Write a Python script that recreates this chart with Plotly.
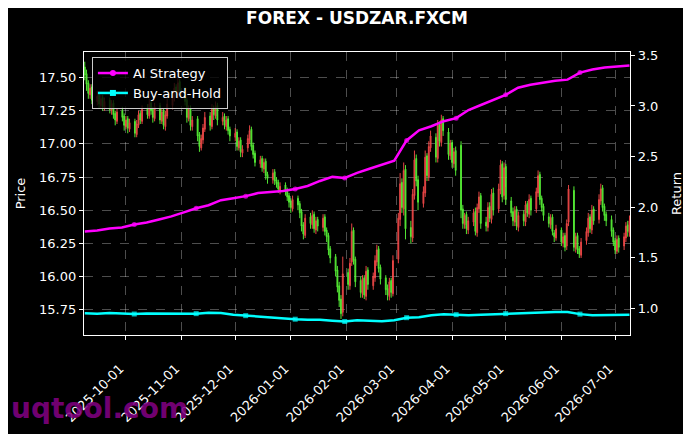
import pandas as pd
import plotly.graph_objects as go

# daily candles, USDZAR, trading days from 2025-09-08 to 2026-07-09
opens = [
    17.58, 17.53, 17.46, 17.37, 17.43,  17.32, 17.37, 17.29, 17.35, 17.27,
    17.33, 17.25, 17.31, 17.23, 17.17,  17.25, 17.21, 17.13, 17.19, 17.11,
    17.17, 17.07, 17.14, 17.23, 17.17,  17.27, 17.21, 17.31, 17.26, 17.19,
    17.29, 17.17, 17.25, 17.13, 17.21,  17.29, 17.35, 17.43, 17.37, 17.47,
    17.41, 17.33, 17.19, 17.27, 17.13,  17.19, 17.07, 16.97, 17.03, 17.11,
    17.21, 17.13, 17.27, 17.21, 17.29,  17.17, 17.21, 17.13, 17.19, 17.11,
    17.05, 17.09, 16.97, 17.03, 16.93,  16.97, 17.03, 17.11, 16.99, 16.93,
    16.85, 16.89, 16.81, 16.87, 16.77,  16.73, 16.79, 16.73, 16.71, 16.65,
    16.69, 16.65, 16.61, 16.57, 16.51,  16.59, 16.55, 16.49, 16.39, 16.31,
    16.45, 16.39, 16.47, 16.35, 16.43,  16.37, 16.45, 16.35, 16.31, 16.21,
    16.15, 16.05, 15.93, 15.83, 15.73,  16.03, 15.93, 16.11, 16.35, 16.13,
    15.97, 15.87, 15.99, 15.85, 16.05,  15.93, 15.99, 16.11, 16.21, 16.07,
    15.99, 15.91, 15.85, 15.97, 15.87,  16.13, 16.43, 16.71, 16.51, 16.81,
    16.37, 16.29, 16.61, 16.89, 16.73,  16.55, 16.63, 16.91, 16.75, 16.97,
    17.05, 16.89, 17.15, 17.01, 17.19,  17.09, 16.91, 17.01, 16.85, 16.95,
    16.99, 16.51, 16.39, 16.47, 16.35,  16.41, 16.49, 16.33, 16.51, 16.61,
    16.41, 16.37, 16.53, 16.43, 16.63,  16.51, 16.65, 16.85, 16.61, 16.83,
    16.57, 16.49, 16.41, 16.51, 16.37,  16.47, 16.41, 16.55, 16.47, 16.59,
    16.51, 16.63, 16.77, 16.59, 16.53,  16.45, 16.39, 16.45, 16.33, 16.29,
    16.35, 16.25, 16.31, 16.23, 16.41,  16.65, 16.21, 16.31, 16.21, 16.16,
    16.27, 16.33, 16.45, 16.35, 16.51,  16.43, 16.57, 16.67, 16.53, 16.47,
    16.43, 16.35, 16.27, 16.19, 16.29,  16.23, 16.29, 16.39, 16.33,
]
highs = [
    17.62, 17.56, 17.48, 17.45, 17.45,  17.40, 17.39, 17.37, 17.37, 17.35,
    17.35, 17.33, 17.33, 17.25, 17.27,  17.28, 17.23, 17.21, 17.21, 17.19,
    17.19, 17.18, 17.25, 17.25, 17.29,  17.30, 17.34, 17.33, 17.28, 17.31,
    17.31, 17.27, 17.27, 17.25, 17.34,  17.39, 17.46, 17.45, 17.50, 17.49,
    17.43, 17.35, 17.29, 17.29, 17.21,  17.21, 17.09, 17.07, 17.15, 17.24,
    17.24, 17.30, 17.29, 17.32, 17.31,  17.24, 17.23, 17.21, 17.21, 17.13,
    17.12, 17.11, 17.05, 17.05, 16.99,  17.07, 17.14, 17.13, 17.01, 16.95,
    16.91, 16.91, 16.89, 16.89, 16.79,  16.81, 16.81, 16.75, 16.73, 16.71,
    16.71, 16.67, 16.63, 16.59, 16.61,  16.61, 16.57, 16.51, 16.41, 16.47,
    16.48, 16.50, 16.49, 16.45, 16.45,  16.47, 16.47, 16.37, 16.33, 16.23,
    16.17, 16.08, 15.96, 15.86, 16.15,  16.06, 16.14, 16.40, 16.37, 16.15,
    16.00, 16.01, 16.01, 16.08, 16.07,  16.03, 16.16, 16.24, 16.23, 16.09,
    16.01, 15.94, 15.99, 15.99, 16.16,  16.48, 16.78, 16.74, 16.86, 16.84,
    16.42, 16.66, 16.95, 16.92, 16.76,  16.68, 16.95, 16.93, 17.02, 17.10,
    17.08, 17.18, 17.17, 17.22, 17.21,  17.12, 17.03, 17.03, 16.97, 16.98,
    17.02, 16.54, 16.48, 16.49, 16.45,  16.51, 16.52, 16.55, 16.64, 16.63,
    16.45, 16.56, 16.56, 16.66, 16.67,  16.70, 16.88, 16.87, 16.86, 16.85,
    16.60, 16.52, 16.53, 16.53, 16.49,  16.50, 16.57, 16.57, 16.62, 16.61,
    16.67, 16.80, 16.79, 16.61, 16.55,  16.48, 16.47, 16.47, 16.35, 16.39,
    16.37, 16.33, 16.33, 16.43, 16.69,  16.68, 16.33, 16.33, 16.23, 16.29,
    16.37, 16.48, 16.47, 16.54, 16.53,  16.62, 16.70, 16.69, 16.55, 16.49,
    16.46, 16.37, 16.29, 16.31, 16.31,  16.33, 16.41, 16.42, 16.46,
]
lows = [
    17.48, 17.40, 17.34, 17.34, 17.30,  17.29, 17.27, 17.27, 17.25, 17.25,
    17.23, 17.22, 17.19, 17.14, 17.15,  17.17, 17.10, 17.11, 17.08, 17.09,
    17.05, 17.05, 17.12, 17.15, 17.15,  17.19, 17.19, 17.22, 17.16, 17.17,
    17.15, 17.15, 17.11, 17.10, 17.19,  17.26, 17.32, 17.35, 17.34, 17.37,
    17.29, 17.16, 17.17, 17.10, 17.10,  17.02, 16.94, 16.95, 17.00, 17.09,
    17.10, 17.11, 17.18, 17.19, 17.14,  17.14, 17.11, 17.10, 17.07, 17.02,
    17.02, 16.95, 16.95, 16.90, 16.90,  16.94, 17.00, 16.95, 16.89, 16.83,
    16.82, 16.79, 16.78, 16.73, 16.70,  16.70, 16.69, 16.67, 16.63, 16.62,
    16.61, 16.57, 16.52, 16.48, 16.49,  16.50, 16.44, 16.34, 16.28, 16.29,
    16.36, 16.36, 16.33, 16.32, 16.34,  16.34, 16.31, 16.26, 16.16, 16.10,
    16.00, 15.88, 15.77, 15.68, 15.70,  15.90, 15.90, 16.08, 16.09, 15.92,
    15.84, 15.84, 15.83, 15.82, 15.90,  15.90, 15.96, 16.08, 16.03, 15.94,
    15.86, 15.82, 15.82, 15.84, 15.85,  16.10, 16.38, 16.48, 16.46, 16.28,
    16.25, 16.26, 16.58, 16.68, 16.50,  16.52, 16.60, 16.72, 16.72, 16.94,
    16.86, 16.86, 16.98, 16.98, 17.06,  16.88, 16.88, 16.82, 16.82, 16.76,
    16.44, 16.36, 16.36, 16.32, 16.32,  16.38, 16.31, 16.30, 16.48, 16.36,
    16.34, 16.34, 16.41, 16.40, 16.46,  16.48, 16.62, 16.56, 16.58, 16.54,
    16.45, 16.38, 16.38, 16.35, 16.34,  16.38, 16.38, 16.45, 16.44, 16.46,
    16.48, 16.60, 16.54, 16.49, 16.42,  16.37, 16.36, 16.31, 16.26, 16.27,
    16.23, 16.22, 16.19, 16.20, 16.38,  16.19, 16.18, 16.17, 16.14, 16.14,
    16.24, 16.30, 16.33, 16.32, 16.39,  16.40, 16.54, 16.49, 16.42, 16.38,
    16.30, 16.23, 16.17, 16.17, 16.18,  16.20, 16.26, 16.30, 16.30,
]
closes = [
    17.52, 17.45, 17.38, 17.42, 17.33,  17.36, 17.30, 17.34, 17.28, 17.32,
    17.26, 17.30, 17.22, 17.18, 17.24,  17.20, 17.14, 17.18, 17.12, 17.16,
    17.08, 17.15, 17.22, 17.18, 17.26,  17.22, 17.30, 17.25, 17.20, 17.28,
    17.18, 17.24, 17.14, 17.22, 17.30,  17.36, 17.42, 17.38, 17.46, 17.40,
    17.32, 17.20, 17.26, 17.14, 17.18,  17.06, 16.98, 17.04, 17.12, 17.20,
    17.14, 17.26, 17.22, 17.28, 17.18,  17.20, 17.14, 17.18, 17.10, 17.06,
    17.08, 16.98, 17.02, 16.94, 16.96,  17.04, 17.10, 16.98, 16.92, 16.86,
    16.88, 16.82, 16.86, 16.76, 16.74,  16.78, 16.72, 16.70, 16.66, 16.68,
    16.64, 16.60, 16.56, 16.52, 16.58,  16.54, 16.48, 16.38, 16.32, 16.44,
    16.40, 16.46, 16.36, 16.42, 16.38,  16.44, 16.34, 16.30, 16.20, 16.14,
    16.04, 15.92, 15.82, 15.72, 16.02,  15.94, 16.10, 16.34, 16.12, 15.96,
    15.88, 15.98, 15.86, 16.04, 15.94,  16.00, 16.12, 16.20, 16.06, 15.98,
    15.90, 15.86, 15.96, 15.88, 16.12,  16.44, 16.70, 16.52, 16.80, 16.36,
    16.30, 16.62, 16.88, 16.72, 16.56,  16.64, 16.90, 16.76, 16.98, 17.06,
    16.90, 17.14, 17.02, 17.18, 17.10,  16.92, 17.00, 16.86, 16.94, 16.80,
    16.50, 16.40, 16.46, 16.36, 16.42,  16.48, 16.34, 16.52, 16.60, 16.40,
    16.38, 16.52, 16.44, 16.62, 16.50,  16.66, 16.84, 16.60, 16.82, 16.58,
    16.48, 16.42, 16.50, 16.38, 16.46,  16.42, 16.54, 16.48, 16.58, 16.50,
    16.64, 16.76, 16.58, 16.52, 16.46,  16.40, 16.44, 16.34, 16.30, 16.36,
    16.26, 16.30, 16.22, 16.40, 16.66,  16.22, 16.30, 16.20, 16.17, 16.26,
    16.34, 16.44, 16.36, 16.50, 16.42,  16.58, 16.66, 16.52, 16.46, 16.42,
    16.34, 16.26, 16.20, 16.28, 16.22,  16.30, 16.38, 16.34, 16.42,
]

# cumulative returns, sampled about once a week
ai_return = [
    1.76, 1.77, 1.79, 1.80, 1.83, 1.85, 1.88, 1.91, 1.95, 1.99,
    2.02, 2.07, 2.09, 2.11, 2.14, 2.15, 2.16, 2.18, 2.21, 2.26,
    2.30, 2.29, 2.34, 2.38, 2.42, 2.46, 2.66, 2.76, 2.80, 2.85,
    2.88, 2.96, 3.01, 3.06, 3.11, 3.18, 3.21, 3.23, 3.25, 3.26,
    3.33, 3.36, 3.38, 3.39, 3.40,
]
bh_return = [
    0.953, 0.950, 0.955, 0.948, 0.946, 0.952, 0.950, 0.955, 0.953, 0.950,
    0.958, 0.955, 0.940, 0.930, 0.925, 0.915, 0.905, 0.895, 0.890, 0.890,
    0.880, 0.872, 0.885, 0.880, 0.875, 0.885, 0.910, 0.915, 0.935, 0.945,
    0.940, 0.935, 0.940, 0.945, 0.950, 0.953, 0.958, 0.962, 0.965, 0.967,
    0.945, 0.935, 0.935, 0.938, 0.940,
]

dates = pd.bdate_range("2025-09-08", periods=len(closes))
line_dates = pd.date_range("2025-09-08", "2026-07-09", periods=len(ai_return))

marker_idx = [4, 9, 13, 17, 21, 26, 30, 34, 40]
msize = [5 if i in marker_idx else 0 for i in range(len(ai_return))]
no_edge = dict(width=0)

fig = go.Figure()

fig.add_trace(go.Candlestick(
    x=dates, open=opens, high=highs, low=lows, close=closes,
    increasing=dict(line=dict(color="#ff4d4d", width=1), fillcolor="#ff4d4d"),
    decreasing=dict(line=dict(color="#5cff3a", width=1), fillcolor="#5cff3a"),
    opacity=0.9, showlegend=False, hoverinfo="skip",
))

fig.add_trace(go.Scatter(
    x=line_dates, y=ai_return, yaxis="y2", mode="lines+markers",
    line=dict(color="#ff00ff", width=2.5),
    marker=dict(size=msize, symbol="circle", color="#ff00ff", line=no_edge),
    showlegend=False,
))
fig.add_trace(go.Scatter(
    x=line_dates, y=bh_return, yaxis="y2", mode="lines+markers",
    line=dict(color="#00ffff", width=2.5),
    marker=dict(size=msize, symbol="square", color="#00ffff", line=no_edge),
    showlegend=False,
))

# legend entries
fig.add_trace(go.Scatter(x=[None], y=[None], mode="lines+markers", name="AI Strategy",
                         line=dict(color="#ff00ff", width=2.5),
                         marker=dict(size=6, symbol="circle", color="#ff00ff", line=no_edge)))
fig.add_trace(go.Scatter(x=[None], y=[None], mode="lines+markers", name="Buy-and-Hold",
                         line=dict(color="#00ffff", width=2.5),
                         marker=dict(size=6, symbol="square", color="#00ffff", line=no_edge)))

axis_common = dict(
    showline=True, linecolor="white", linewidth=1.2, ticks="outside",
    ticklen=4, tickcolor="white", tickfont=dict(color="white", size=13),
    zeroline=False,
)

# the page body adds an 8px offset, margins are shifted to compensate
fig.update_layout(
    width=691, height=434,
    margin=dict(l=72, r=69, t=44, b=107),
    paper_bgcolor="black", plot_bgcolor="black",
    font=dict(family="DejaVu Sans", color="white", size=13),
    title=dict(text="<b>FOREX - USDZAR.FXCM</b>", x=0.5, xref="paper", xanchor="center",
               y=0.977, yanchor="middle", font=dict(size=17, color="white")),
    xaxis=dict(
        **axis_common, mirror=True, type="date",
        range=["2025-09-07 14:00", "2026-07-09 07:00"],
        tick0="2025-10-01", dtick="M1", tickformat="%Y-%m-%d", tickangle=-45,
        ticksuffix="\u00a0\u00a0", ticklabelstandoff=10,
        showgrid=True, gridcolor="rgba(255,255,255,0.3)", griddash="dash", gridwidth=0.6,
        rangeslider=dict(visible=False),
    ),
    yaxis=dict(
        **axis_common, mirror=True,
        range=[15.559, 17.693], dtick=0.25, tick0=15.75, tickformat=".2f",
        title=dict(text="Price", font=dict(size=13, color="white"), standoff=10),
        showgrid=True, gridcolor="rgba(255,255,255,0.3)", griddash="dash", gridwidth=0.6,
    ),
    yaxis2=dict(
        **axis_common, overlaying="y", side="right",
        range=[0.739, 3.533], dtick=0.5, tick0=1.0, tickformat=".1f",
        title=dict(text="Return", font=dict(size=13, color="white"), standoff=14),
        showgrid=False,
    ),
    legend=dict(
        x=0.0145, y=0.982, xanchor="left", yanchor="top",
        bgcolor="rgba(0,0,0,0.8)", bordercolor="#cccccc", borderwidth=1,
        font=dict(size=13, color="white"),
    ),
    annotations=[dict(
        text="<b>uqtool.com</b>", xref="paper", yref="paper",
        x=-0.138, y=-0.258, xanchor="left", yanchor="middle", showarrow=False,
        font=dict(size=28, color="rgba(128,0,128,0.9)"),
    )],
)

fig.write_html("out.html")
